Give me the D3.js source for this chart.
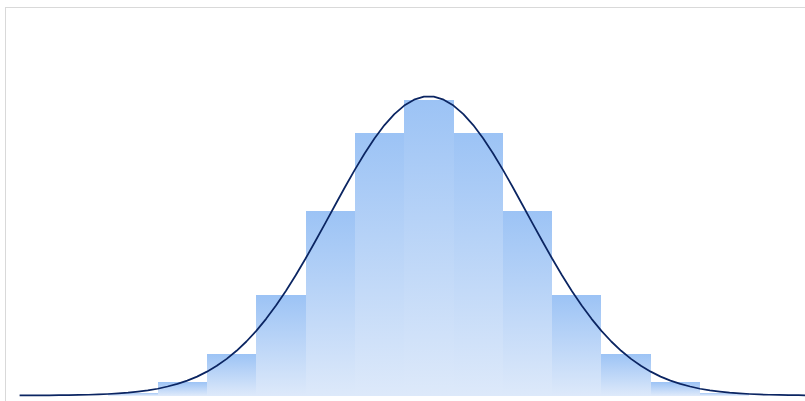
<!DOCTYPE html>
<html>
<head>
<meta charset="utf-8">
<script src="https://cdn.jsdelivr.net/npm/d3@7"></script>
<style>
  html, body { margin: 0; padding: 0; background: #ffffff; }
  svg { display: block; }
</style>
</head>
<body>
<svg id="chart" width="805" height="401"></svg>
<script>
// Histogram bins (lower edges, in standard deviations) and share of observations (%)
const binStarts = [-3.25, -2.75, -2.25, -1.75, -1.25, -0.75, -0.25, 0.25, 0.75, 1.25, 1.75, 2.25, 2.75];
const binWidth = 0.5;
const binShare = [0.2, 0.9, 2.8, 6.7, 12.3, 17.5, 19.7, 17.5, 12.3, 6.7, 2.8, 0.9, 0.2];

// Fitted normal curve, expressed in the same % per bin units
const curveX = [-4.15, -4.05, -3.95, -3.85, -3.75, -3.65, -3.55, -3.45, -3.35, -3.25, -3.15, -3.05,
  -2.95, -2.85, -2.75, -2.65, -2.55, -2.45, -2.35, -2.25, -2.15, -2.05, -1.95, -1.85, -1.75, -1.65,
  -1.55, -1.45, -1.35, -1.25, -1.15, -1.05, -0.95, -0.85, -0.75, -0.65, -0.55, -0.45, -0.35, -0.25,
  -0.15, -0.05, 0.05, 0.15, 0.25, 0.35, 0.45, 0.55, 0.65, 0.75, 0.85, 0.95, 1.05, 1.15, 1.25, 1.35,
  1.45, 1.55, 1.65, 1.75, 1.85, 1.95, 2.05, 2.15, 2.25, 2.35, 2.45, 2.55, 2.65, 2.75, 2.85, 2.95,
  3.05, 3.15, 3.25, 3.35, 3.45, 3.55, 3.65, 3.75, 3.85, 3.95];
const curveY = [0.003, 0.005, 0.008, 0.01, 0.02, 0.03, 0.04, 0.05, 0.07, 0.10, 0.14, 0.19,
  0.26, 0.34, 0.45, 0.60, 0.77, 0.99, 1.26, 1.59, 1.98, 2.44, 2.98, 3.60, 4.31, 5.11,
  6.00, 6.97, 8.02, 9.13, 10.30, 11.49, 12.70, 13.90, 15.06, 16.15, 17.15, 18.03, 18.76, 19.33,
  19.72, 19.92, 19.92, 19.72, 19.33, 18.76, 18.03, 17.15, 16.15, 15.06, 13.90, 12.70, 11.49, 10.30, 9.13, 8.02,
  6.97, 6.00, 5.11, 4.31, 3.60, 2.98, 2.44, 1.98, 1.59, 1.26, 0.99, 0.77, 0.60, 0.45, 0.34, 0.26,
  0.19, 0.14, 0.10, 0.07, 0.05, 0.04, 0.03, 0.02, 0.01, 0.008];

const svg = d3.select("#chart");

// Chart frame (extends past the right and bottom of the view)
svg.append("rect")
  .attr("x", 5.5).attr("y", 7.5)
  .attr("width", 840).attr("height", 430)
  .attr("fill", "#ffffff")
  .attr("stroke", "#d9d9d9")
  .attr("stroke-width", 1);

const x = d3.scaleLinear().domain([-4.15, 4.15]).range([19.6, 838.1]);
const y = d3.scaleLinear().domain([0, 25]).range([395.5, 20.5]);

// Per-bar vertical gradient: saturated blue at the top fading to pale blue
const defs = svg.append("defs");
const grad = defs.append("linearGradient")
  .attr("id", "barFill")
  .attr("x1", 0).attr("y1", 0).attr("x2", 0).attr("y2", 1);
grad.append("stop").attr("offset", "0%").attr("stop-color", "#9cc3f5");
grad.append("stop").attr("offset", "100%").attr("stop-color", "#dde9fa");

const bins = binStarts.map((s, i) => ({ x0: s, x1: s + binWidth, v: binShare[i] }));

svg.append("g")
  .selectAll("rect")
  .data(bins)
  .join("rect")
  .attr("x", d => x(d.x0))
  .attr("width", d => x(d.x1) - x(d.x0))
  .attr("y", d => y(d.v))
  .attr("height", d => y(0) - y(d.v))
  .attr("fill", "url(#barFill)")
  .attr("shape-rendering", "crispEdges");

const pts = curveX.map((cx, i) => [cx, curveY[i]]);
const line = d3.line()
  .x(d => x(d[0]))
  .y(d => y(d[1]))
  .curve(d3.curveLinear);

svg.append("path")
  .datum(pts)
  .attr("d", line)
  .attr("fill", "none")
  .attr("stroke", "#0b2562")
  .attr("stroke-width", 1.75)
  .attr("stroke-linejoin", "round");
</script>
</body>
</html>
